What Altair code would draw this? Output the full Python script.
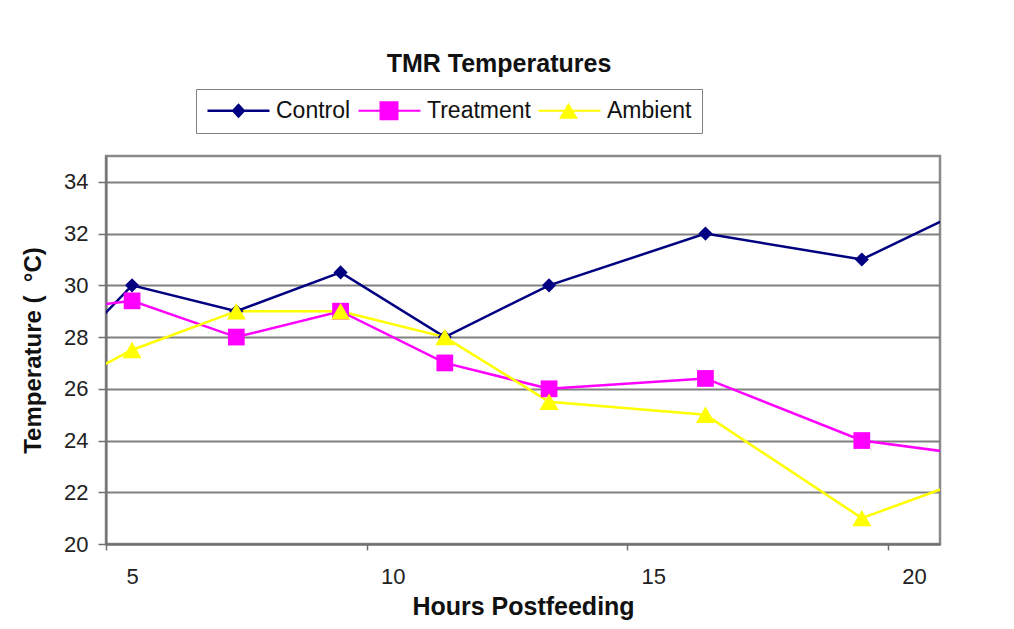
import altair as alt
import pandas as pd

# Hours postfeeding (first and last points lie just outside the visible axis range)
hours = [3.5, 5.5, 7.5, 9.5, 11.5, 13.5, 16.5, 19.5, 22.5]
control = [25.8, 30.0, 29.0, 30.5, 28.0, 30.0, 32.0, 31.0, 33.9]
treatment = [28.9, 29.4, 28.0, 29.0, 27.0, 26.0, 26.4, 24.0, 23.2]
ambient = [25.4, 27.5, 29.0, 29.0, 28.0, 25.5, 25.0, 21.0, 23.2]

series_names = ["Control", "Treatment", "Ambient"]
series_colors = ["#000080", "#FF00FF", "#FFFF00"]
marker_shapes = ["diamond", "square", "triangle-up"]
marker_sizes = [200, 360, 220]
# legend symbols: short line with the marker in the middle
legend_paths = [
    "M-1,-0.12H5.2V0.12H-1Z M2.1,-0.75L2.8,0L2.1,0.75L1.4,0Z",
    "M-1,-0.1H5.2V0.1H-1Z M1.1,-0.95H3.0V0.95H1.1Z",
    "M-1,-0.1H5.2V0.1H-1Z M2.0,-0.8L2.95,0.8L1.05,0.8Z",
]
x_ticks = [5, 10, 15, 20]
y_ticks = [20, 22, 24, 26, 28, 30, 32, 34]

rows = []
for name, vals in zip(series_names, [control, treatment, ambient]):
    for h, v in zip(hours, vals):
        rows.append({"hours": h, "temp": v, "series": name})
df = pd.DataFrame(rows)

FONT = "Liberation Sans"

x_enc = alt.X(
    "hours:Q",
    scale=alt.Scale(domain=[5, 21], nice=False, zero=False),
    axis=alt.Axis(
        values=x_ticks, title="Hours Postfeeding", grid=False, labelOffset=26,
        labelFlush=False, tickSize=6, labelPadding=16, titlePadding=7,
        labelFontSize=22, titleFontSize=25, titleFontWeight="bold",
    ),
)
y_enc = alt.Y(
    "temp:Q",
    scale=alt.Scale(domain=[20, 35], nice=False, zero=False),
    axis=alt.Axis(
        values=y_ticks, title="Temperature ( \u00a0°C)", grid=True,
        gridColor="#808080", gridWidth=2, tickSize=8, labelPadding=10,
        titlePadding=18, labelFontSize=22, titleFontSize=24, titleFontWeight="bold",
    ),
)

color_scale = alt.Scale(domain=series_names, range=series_colors)

lines = alt.Chart(df).mark_line(strokeWidth=2.5, clip=True).encode(
    x=x_enc, y=y_enc,
    color=alt.Color("series:N", scale=color_scale, legend=None),
)

points = alt.Chart(df).mark_point(filled=True, opacity=1, clip=True).encode(
    x=x_enc, y=y_enc,
    color=alt.Color("series:N", scale=color_scale, legend=None),
    shape=alt.Shape("series:N", scale=alt.Scale(domain=series_names, range=marker_shapes), legend=None),
    size=alt.Size("series:N", scale=alt.Scale(domain=series_names, range=marker_sizes), legend=None),
)

legend_props = dict(
    title=None, orient="none", legendX=90, legendY=-67,
    direction="horizontal", columns=3, labelFont=FONT, labelFontSize=23,
    labelColor="#111111", labelOffset=47, symbolSize=400,
    symbolStrokeWidth=0, columnPadding=6, padding=10,
    fillColor="white", strokeColor="#808080",
)

legend_layer = alt.Chart(df).transform_filter("false").mark_point(
    filled=True, opacity=1, size=400
).encode(
    color=alt.Color("series:N", scale=color_scale, legend=alt.Legend(**legend_props)),
    shape=alt.Shape(
        "series:N", scale=alt.Scale(domain=series_names, range=legend_paths),
        legend=alt.Legend(**legend_props),
    ),
)

chart = (
    alt.layer(lines, points, legend_layer)
    .resolve_scale(color="independent", shape="independent")
    .properties(
        width=834,
        height=388,
        title=alt.Title(
            "TMR Temperatures", font=FONT, fontSize=25, fontWeight="bold",
            color="#111111", anchor="middle", dx=-24, offset=12,
        ),
        autosize=alt.AutoSizeParams(type="none"),
        padding={"left": 98, "top": 148, "right": 60, "bottom": 77},
    )
    .configure(background="white")
    .configure_view(stroke="#8a8a8a", strokeWidth=2.5, fill="#C0C0C0")
    .configure_axis(
        labelFont=FONT, titleFont=FONT, labelColor="#222222", titleColor="#111111",
        domainColor="#707070", domainWidth=2, tickColor="#707070", tickWidth=1.5,
    )
)

chart.save("out.html", embed_options={"renderer": "svg", "actions": False})
